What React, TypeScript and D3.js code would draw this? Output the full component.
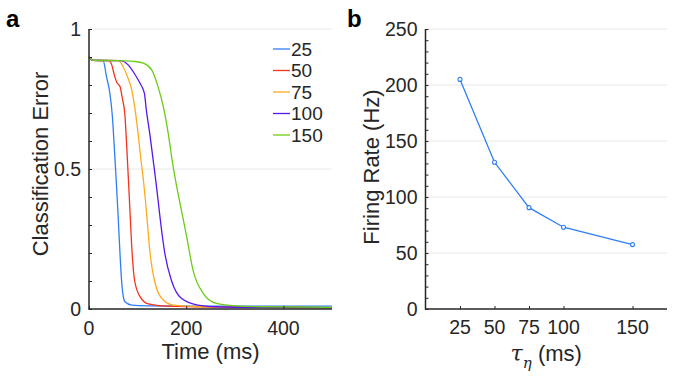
import * as d3 from 'd3'
import React, { useEffect, useRef } from 'react'

// Panel a: classification error vs time for each tau
const tau = ['25', '50', '75', '100', '150']
const colors = ['#2f7ef5', '#f5321c', '#ffaa1e', '#5816ee', '#6ccc16']

const t25 = [0, 8, 29, 36, 43, 48, 52, 56, 60, 64, 68, 74, 88, 120, 200, 500]
const e25 = [0.9, 0.888, 0.887, 0.83, 0.77, 0.69, 0.58, 0.46, 0.33, 0.19, 0.08, 0.026, 0.014, 0.011, 0.01, 0.01]
const t50 = [0, 8, 41, 47, 52, 57, 64, 68, 74, 77, 80, 84, 88, 94, 105, 122, 160, 250, 500]
const e50 = [0.9, 0.888, 0.887, 0.871, 0.836, 0.81, 0.794, 0.758, 0.69, 0.6, 0.5, 0.36, 0.22, 0.1, 0.044, 0.018, 0.01, 0.007, 0.005]
const t75 = [0, 8, 60, 70, 79, 88, 94, 101, 107, 112, 116, 120, 125, 136, 153, 173, 220, 300, 500]
const e75 = [0.9, 0.888, 0.887, 0.866, 0.83, 0.782, 0.722, 0.627, 0.532, 0.46, 0.39, 0.31, 0.21, 0.092, 0.032, 0.014, 0.009, 0.006, 0.005]
const t100 = [0, 8, 65, 81, 93, 105, 114, 118, 125, 132, 138, 142, 148, 156, 170, 190, 224, 262, 320, 500]
const e100 = [0.9, 0.888, 0.887, 0.871, 0.842, 0.806, 0.77, 0.71, 0.627, 0.532, 0.45, 0.39, 0.3, 0.199, 0.1, 0.038, 0.014, 0.008, 0.006, 0.005]
const t150 = [0, 8, 60, 94, 112, 129, 142, 153, 163, 171, 178, 190, 201, 214, 235, 262, 303, 360, 500]
const e150 = [0.9, 0.888, 0.887, 0.884, 0.878, 0.854, 0.794, 0.722, 0.627, 0.532, 0.46, 0.354, 0.258, 0.139, 0.056, 0.02, 0.011, 0.008, 0.006]

const timeTicks = [0, 200, 400]
const errTicks = [0, 0.5, 1]

// Panel b: firing rate vs tau
const tauVals = [25, 50, 75, 100, 150]
const rates = [205, 131, 90.5, 73, 57.5]
const rateTicks = [0, 50, 100, 150, 200, 250]

const FONT = '"Liberation Sans", Arial, sans-serif'
const AX = '#262626'
const GRID = '#e8e8e8'
const TICK_FS = 19.5
const LABEL_FS = 22

const App = () => {
    const ref = useRef<SVGSVGElement>(null)

    useEffect(() => {
        const svg = d3.select(ref.current)
        svg.selectAll('*').remove()

        const top = 29, bottom = 309

        // ---------- panel a ----------
        const xa = d3.scaleLinear().domain([0, 500]).range([89, 332])
        const ya = d3.scaleLinear().domain([0, 1]).range([bottom, top])

        const ga = svg.append('g')
        ga.selectAll('.grid').data([0.5, 1]).enter().append('line')
            .attr('x1', xa(0)).attr('x2', xa(500))
            .attr('y1', d => ya(d)).attr('y2', d => ya(d))
            .attr('stroke', GRID).attr('stroke-width', 1)

        const series = [[t25, e25], [t50, e50], [t75, e75], [t100, e100], [t150, e150]]
        const line = d3.line<[number, number]>()
            .x(d => xa(d[0])).y(d => ya(d[1]))
            .curve(d3.curveMonotoneX)
        series.forEach(([ts, es], i) => {
            ga.append('path')
                .attr('d', line(ts.map((t, j) => [t, es[j]] as [number, number])))
                .attr('fill', 'none')
                .attr('stroke', colors[i])
                .attr('stroke-width', 1.3)
        })

        // axes a
        ga.append('g').attr('transform', `translate(${xa(0)},0)`)
            .call(d3.axisLeft(ya).tickValues(d3.range(0, 1.001, 0.1)).tickSize(-3).tickFormat(() => ''))
            .call(g => g.select('.domain').remove())
            .call(g => g.selectAll('line').attr('stroke', AX))
        ga.append('g').attr('transform', `translate(0,${bottom})`)
            .call(d3.axisBottom(xa).tickValues(timeTicks).tickSize(-3).tickFormat(() => ''))
            .call(g => g.select('.domain').remove())
            .call(g => g.selectAll('line').attr('stroke', AX))
        ga.append('line').attr('x1', xa(0)).attr('x2', xa(0)).attr('y1', top).attr('y2', bottom + 0.5)
            .attr('stroke', AX).attr('stroke-width', 1.5)
        ga.append('line').attr('x1', xa(0) - 0.5).attr('x2', xa(500)).attr('y1', bottom).attr('y2', bottom)
            .attr('stroke', AX).attr('stroke-width', 1.5)

        ga.selectAll('.ylab').data(errTicks).enter().append('text')
            .attr('x', xa(0) - 8).attr('y', d => ya(d) + 7)
            .attr('text-anchor', 'end')
            .attr('font-family', FONT).attr('font-size', TICK_FS).attr('fill', AX)
            .text(d => d === 0.5 ? '0.5' : String(d))
        ga.selectAll('.xlab').data(timeTicks).enter().append('text')
            .attr('x', d => xa(d)).attr('y', 335)
            .attr('text-anchor', 'middle')
            .attr('font-family', FONT).attr('font-size', TICK_FS).attr('fill', AX)
            .text(d => String(d))
        ga.append('text').attr('x', (xa(0) + xa(500)) / 2).attr('y', 359)
            .attr('text-anchor', 'middle')
            .attr('font-family', FONT).attr('font-size', LABEL_FS).attr('fill', AX)
            .text('Time (ms)')
        ga.append('text').attr('transform', `translate(48,${(top + bottom) / 2 - 5}) rotate(-90)`)
            .attr('text-anchor', 'middle')
            .attr('font-family', FONT).attr('font-size', LABEL_FS).attr('fill', AX)
            .text('Classification Error')

        // legend
        tau.forEach((k, i) => {
            const y = 49 + i * 21.5
            ga.append('line').attr('x1', 273).attr('x2', 290).attr('y1', y).attr('y2', y)
                .attr('stroke', colors[i]).attr('stroke-width', 1.3)
            ga.append('text').attr('x', 291).attr('y', y + 6.5)
                .attr('font-family', FONT).attr('font-size', 19).attr('fill', AX)
                .text(k)
        })

        ga.append('text').attr('x', 6).attr('y', 27)
            .attr('font-family', FONT).attr('font-size', 24).attr('font-weight', 'bold').attr('fill', '#000')
            .text('a')

        // ---------- panel b ----------
        const xb = d3.scaleLinear().domain([0, 175]).range([425.5, 667])
        const yb = d3.scaleLinear().domain([0, 250]).range([bottom, top])
        const gb = svg.append('g')

        gb.selectAll('.grid').data(rateTicks.slice(1)).enter().append('line')
            .attr('x1', xb(0)).attr('x2', xb(175))
            .attr('y1', d => yb(d)).attr('y2', d => yb(d))
            .attr('stroke', GRID).attr('stroke-width', 1)

        gb.append('g').attr('transform', `translate(${xb(0)},0)`)
            .call(d3.axisLeft(yb).tickValues(d3.range(0, 251, 10)).tickSize(-3).tickFormat(() => ''))
            .call(g => g.select('.domain').remove())
            .call(g => g.selectAll('line').attr('stroke', AX))
        gb.append('g').attr('transform', `translate(0,${bottom})`)
            .call(d3.axisBottom(xb).tickValues(tauVals).tickSize(-3).tickFormat(() => ''))
            .call(g => g.select('.domain').remove())
            .call(g => g.selectAll('line').attr('stroke', AX))
        gb.append('line').attr('x1', xb(0)).attr('x2', xb(0)).attr('y1', top).attr('y2', bottom + 0.5)
            .attr('stroke', AX).attr('stroke-width', 1.5)
        gb.append('line').attr('x1', xb(0) - 0.5).attr('x2', xb(175)).attr('y1', bottom).attr('y2', bottom)
            .attr('stroke', AX).attr('stroke-width', 1.5)

        const lineB = d3.line<number>()
            .x((d, i) => xb(tauVals[i])).y(d => yb(d))
        gb.append('path').attr('d', lineB(rates))
            .attr('fill', 'none').attr('stroke', '#2f7ef5').attr('stroke-width', 1.3)
        gb.selectAll('.dot').data(rates).enter().append('circle')
            .attr('cx', (d, i) => xb(tauVals[i])).attr('cy', d => yb(d))
            .attr('r', 2).attr('fill', '#fff').attr('stroke', '#2f7ef5').attr('stroke-width', 1.1)

        gb.selectAll('.ylab').data(rateTicks).enter().append('text')
            .attr('x', xb(0) - 8).attr('y', d => yb(d) + 7)
            .attr('text-anchor', 'end')
            .attr('font-family', FONT).attr('font-size', TICK_FS).attr('fill', AX)
            .text(d => String(d))
        gb.selectAll('.xlab').data(tauVals).enter().append('text')
            .attr('x', d => xb(d)).attr('y', 334)
            .attr('text-anchor', 'middle')
            .attr('font-family', FONT).attr('font-size', TICK_FS).attr('fill', AX)
            .text(d => String(d))

        const xt = gb.append('text').attr('x', (xb(0) + xb(175)) / 2).attr('y', 361)
            .attr('text-anchor', 'middle')
            .attr('font-family', FONT).attr('font-size', LABEL_FS).attr('fill', AX)
        xt.append('tspan').attr('font-style', 'italic').attr('font-family', '"DejaVu Serif", serif').text('τ')
        xt.append('tspan').attr('font-style', 'italic').attr('font-family', '"DejaVu Serif", serif')
            .attr('font-size', 15).attr('dy', 7).text('η')
        xt.append('tspan').attr('dy', -7).text(' (ms)')

        gb.append('text').attr('transform', `translate(379,${(top + bottom) / 2 - 2}) rotate(-90)`)
            .attr('text-anchor', 'middle')
            .attr('font-family', FONT).attr('font-size', LABEL_FS).attr('fill', AX)
            .text('Firing Rate (Hz)')

        gb.append('text').attr('x', 347).attr('y', 27)
            .attr('font-family', FONT).attr('font-size', 24).attr('font-weight', 'bold').attr('fill', '#000')
            .text('b')
    }, [])

    return (
        <svg ref={ref} width={676} height={377}
            style={{ position: 'absolute', left: 0, top: 0, background: '#fff' }} />
    )
}

export default App
